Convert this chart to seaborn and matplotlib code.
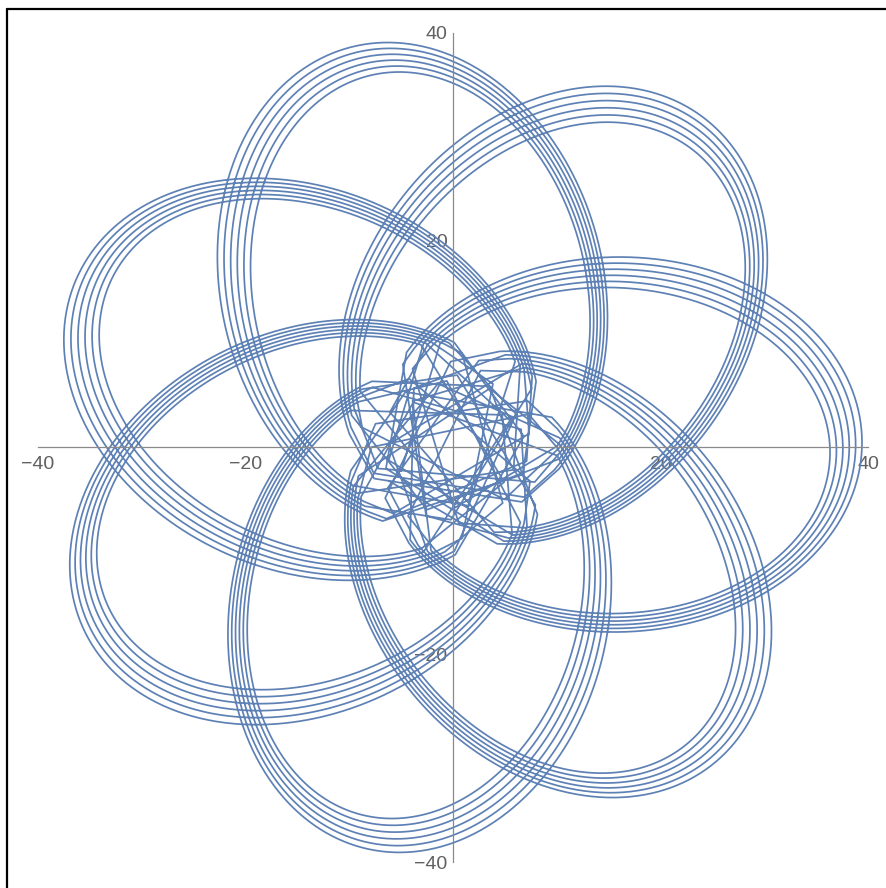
import numpy as np
import pandas as pd
import seaborn as sns
import matplotlib.pyplot as plt
from matplotlib.lines import Line2D
from matplotlib.ticker import FixedLocator

# precessing orbit: 7 petals, each drawn 6 times,
# far end shrinking from 40 to about 36, close pass 5-7 from the centre
petals = 7
strands = 6
far_radius = [40.0, 36.3]     # far end of a loop, first and last pass
near_radius = [7.0, 5.5]      # closest pass to the centre, first and last pass
drift_deg = -0.43             # slow turn of the pattern per pass
tilt_deg = 1.5                # angle of the first tip
steps_per_orbit = 300         # time samples per orbit
near_cut = 10.0               # inside this radius the original plot is coarsely sampled
near_every = 14               # keep one sample in this many there

major_ticks = [-40, -20, 20, 40]
minor_ticks = [-35, -30, -25, -15, -10, -5, 5, 10, 15, 25, 30, 35]

orbits = petals * strands
turn = 2 * np.pi * (petals + 1) / petals + np.radians(drift_deg) / petals


def orbit(psi):
    frac = (psi - np.pi) / (2 * np.pi * orbits)
    ra = far_radius[0] + (far_radius[1] - far_radius[0]) * frac
    rp = near_radius[0] + (near_radius[1] - near_radius[0]) * frac
    ecc = (ra - rp) / (ra + rp)
    semi = 2 * ra * rp / (ra + rp)
    r = semi / (1 - ecc * np.cos(psi))
    phi = psi / (2 * np.pi) * turn + np.radians(tilt_deg)
    return r, phi


# sample evenly in time (r^2 dphi); the fast close passes get only a few points
psi_fine = np.linspace(np.pi, np.pi + 2 * np.pi * orbits, 600000)
r_fine, phi_fine = orbit(psi_fine)
t_fine = np.concatenate([[0], np.cumsum(r_fine[1:] ** 2 * np.diff(phi_fine))])
t_even = np.linspace(0, t_fine[-1], orbits * steps_per_orbit + 1)
psi = np.interp(t_even, t_fine, psi_fine)
r, phi = orbit(psi)
keep = (r > near_cut) | (np.arange(len(r)) % near_every == 0)
r, phi = r[keep], phi[keep]
curve = pd.DataFrame({"x": r * np.cos(phi), "y": r * np.sin(phi)})

sns.set_style("white")
plt.rcParams["font.family"] = ["Liberation Sans", "DejaVu Sans"]

fig = plt.figure(figsize=(8.87, 8.88), dpi=100)
ax = fig.add_axes([38 / 887, 26 / 888, 830 / 887, 829 / 888])

sns.lineplot(data=curve, x="x", y="y", sort=False, estimator=None,
             color="#5E81B5", linewidth=1.25, ax=ax)

ax.set_xlim(-40, 40)
ax.set_ylim(-40, 40)
ax.set_xlabel("")
ax.set_ylabel("")

for side in ["top", "right"]:
    ax.spines[side].set_visible(False)
for side in ["left", "bottom"]:
    ax.spines[side].set_position(("data", 0))
    ax.spines[side].set_color("#8a8a8a")
    ax.spines[side].set_linewidth(0.9)

for axis in [ax.xaxis, ax.yaxis]:
    axis.set_major_locator(FixedLocator(major_ticks))
    axis.set_minor_locator(FixedLocator(minor_ticks))

ax.tick_params(which="both", direction="in", color="#8a8a8a", width=0.8,
               labelcolor="#606060", labelsize=14)
ax.tick_params(which="major", length=6)
ax.tick_params(which="minor", length=3.5)
ax.tick_params(axis="x", pad=6)
ax.tick_params(axis="y", pad=4)

# screenshot frame on the top and left edges
fig.add_artist(Line2D([7 / 887, 1], [1 - 9 / 888, 1 - 9 / 888], color="black", linewidth=1.6))
fig.add_artist(Line2D([7 / 887, 7 / 887], [0, 1 - 9 / 888], color="black", linewidth=1.6))

fig.savefig("out.png", dpi=100, facecolor="white")
